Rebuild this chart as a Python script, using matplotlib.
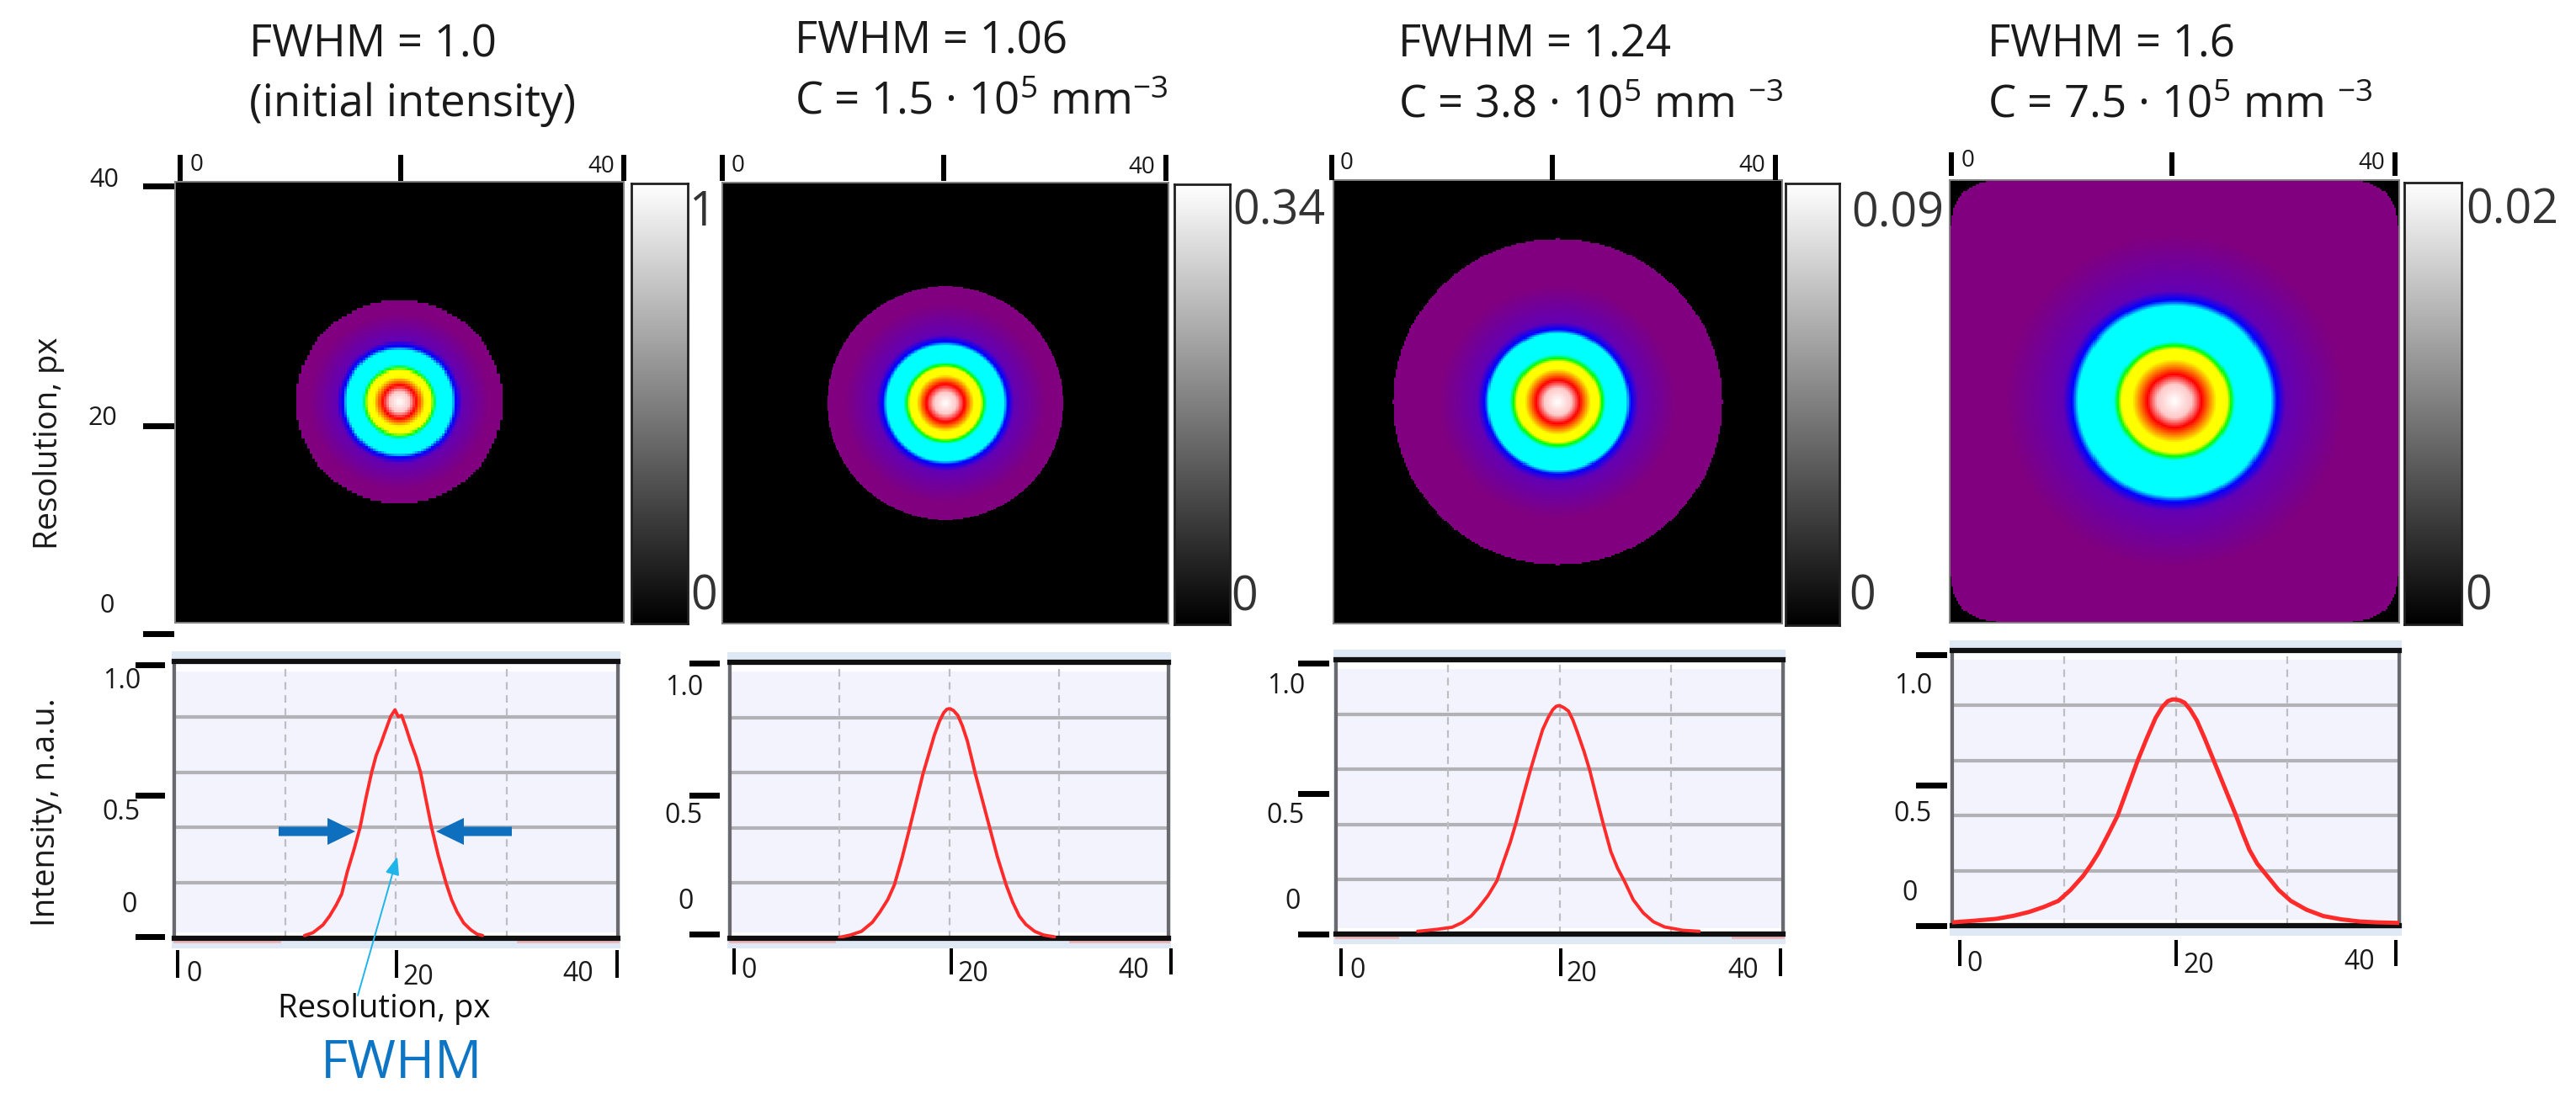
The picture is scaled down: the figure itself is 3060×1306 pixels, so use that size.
import numpy as np
import matplotlib
matplotlib.use("Agg")
import matplotlib.pyplot as plt
from matplotlib.colors import LinearSegmentedColormap
from matplotlib.patches import Rectangle, Polygon

W, H = 3060, 1306
FONT = "Open Sans"
plt.rcParams["font.family"] = [FONT, "DejaVu Sans"]
plt.rcParams["mathtext.fontset"] = "custom"
plt.rcParams["mathtext.rm"] = FONT
plt.rcParams["mathtext.default"] = "rm"

# ---- data ----
title_1 = ["FWHM = 1.0", "(initial intensity)"]
title_2 = ["FWHM = 1.06", "C = 1.5 · 10$^{5}$ mm$^{-3}$"]
title_3 = ["FWHM = 1.24", "C = 3.8 · 10$^{5}$ mm $^{-3}$"]
title_4 = ["FWHM = 1.6", "C = 7.5 · 10$^{5}$ mm $^{-3}$"]
colorbar_max = ["1", "0.34", "0.09", "0.02"]

# ring radii in px from the centre of each map:
# white, pink, red, yellow, yellow, green, cyan, cyan, blue, violet, purple
ring_colors = ["#ffffff", "#ffc8c8", "#ff0000", "#ffff00", "#ffff00", "#00ff00",
               "#00ffff", "#00ffff", "#0000ff", "#6400b4", "#800080"]
rings_1 = [0, 0.9, 1.5, 2.3, 2.85, 3.1, 3.35, 4.75, 5.1, 5.6, 8.0]
rings_2 = [0, 1.0, 1.7, 2.6, 3.2, 3.45, 3.75, 5.25, 5.6, 6.2, 9.0]
rings_3 = [0, 1.2, 1.95, 3.0, 3.65, 3.95, 4.3, 6.15, 6.5, 7.2, 10.5]
rings_4 = [0, 1.5, 2.4, 3.8, 4.7, 5.05, 5.4, 8.6, 9.15, 10.0, 15.0]
edge_radius = [9.26, 10.6, 14.75, 20.2]
edge_power = [2, 2, 2, 10]
map_cells = [170, 400, 260, 260]

# line profiles (position in px, intensity in axis units)
x_1 = [11.75, 12.5, 13.4, 14.0, 14.6, 15.1, 15.6, 16.2, 16.75, 17.3, 17.8, 18.2, 18.6, 19.0, 19.5, 19.9,
       20.2, 20.5, 20.9, 21.3, 21.8, 22.2, 22.7, 23.2, 23.8, 24.5, 25.0, 25.5, 26.1, 26.75, 27.3, 27.8]
y_1 = [0.01, 0.02, 0.048, 0.08, 0.12, 0.16, 0.24, 0.32, 0.40, 0.51, 0.60, 0.66, 0.70, 0.745, 0.80, 0.825,
       0.80, 0.805, 0.76, 0.71, 0.655, 0.60, 0.50, 0.40, 0.30, 0.20, 0.14, 0.095, 0.055, 0.03, 0.015, 0.01]
x_2 = [10.0, 11.0, 12.0, 13.0, 13.7, 14.4, 15.0, 15.7, 16.4, 17.0, 17.6, 18.2, 18.65, 19.1, 19.5, 19.8, 20.07,
       20.4, 20.8, 21.2, 21.65, 22.0, 22.4, 23.0, 23.7, 24.4, 25.2, 25.8, 26.4, 27.0, 27.8, 28.6, 29.6]
y_2 = [0.003, 0.012, 0.025, 0.058, 0.096, 0.14, 0.193, 0.29, 0.40, 0.497, 0.594, 0.675, 0.736, 0.785, 0.817, 0.83, 0.832,
       0.825, 0.807, 0.77, 0.716, 0.66, 0.594, 0.505, 0.40, 0.295, 0.193, 0.13, 0.08, 0.05, 0.025, 0.012, 0.005]
x_3 = [7.3, 9.0, 10.4, 11.3, 12.1, 12.8, 13.6, 14.4, 15.0, 15.6, 16.1, 16.8, 17.4, 18.0, 18.5, 19.0, 19.4, 19.7, 20.0,
       20.4, 20.8, 21.2, 21.6, 22.2, 22.7, 23.3, 23.9, 24.6, 25.2, 25.8, 26.6, 27.5, 28.4, 29.4, 31.0, 32.5]
y_3 = [0.01, 0.017, 0.025, 0.042, 0.066, 0.098, 0.14, 0.194, 0.265, 0.335, 0.404, 0.51, 0.598, 0.68, 0.746, 0.79, 0.818, 0.83, 0.833,
       0.825, 0.813, 0.78, 0.736, 0.665, 0.598, 0.50, 0.404, 0.30, 0.24, 0.194, 0.125, 0.077, 0.045, 0.026, 0.014, 0.01]
x_4 = [0.0, 2.0, 4.0, 5.5, 6.9, 8.2, 9.5, 10.6, 11.7, 12.4, 13.1, 14.0, 14.8, 15.7, 16.6, 17.4, 18.2, 18.8, 19.3, 19.7, 20.0,
       20.4, 20.8, 21.3, 21.9, 22.6, 23.4, 24.4, 25.4, 26.0, 26.6, 27.3, 28.1, 29.2, 30.3, 31.7, 33.2, 34.8, 36.5, 38.0, 40.0]
y_4 = [0.012, 0.018, 0.025, 0.036, 0.05, 0.068, 0.09, 0.13, 0.18, 0.22, 0.265, 0.335, 0.40, 0.50, 0.60, 0.68, 0.755, 0.795, 0.816, 0.822, 0.822,
       0.818, 0.81, 0.785, 0.745, 0.68, 0.60, 0.50, 0.40, 0.335, 0.275, 0.225, 0.185, 0.13, 0.09, 0.058, 0.035, 0.023, 0.015, 0.012, 0.01]
base_left = [9.5, 9.5, 5.5, 0.0]
base_right = [31.0, 31.0, 35.5, 40.0]

# ---- layout in picture pixels ----
map_boxes = [(208, 216, 741, 740), (858, 217, 1388, 741), (1584, 214, 2117, 741), (2316, 214, 2850, 740)]
cb_boxes = [(750, 218, 817, 741), (1395, 219, 1461, 742), (2121, 218, 2185, 743), (2856, 217, 2924, 742)]
line_boxes = [(207, 786, 734, 1115), (867, 787, 1388, 1115), (1587, 784, 2118, 1110), (2319, 773, 2850, 1100)]

fig = plt.figure(figsize=(W / 100, H / 100), dpi=100, facecolor="white")


def add_box(box, **kw):
    x0, y0, x1, y1 = box
    return fig.add_axes([x0 / W, 1 - y1 / H, (x1 - x0) / W, (y1 - y0) / H], **kw)


cmap = LinearSegmentedColormap.from_list("rings", [(i / 10, c) for i, c in enumerate(ring_colors)], N=1024)
cmap.set_bad("black")
all_rings = [rings_1, rings_2, rings_3, rings_4]

for i in range(4):
    ax = add_box(map_boxes[i])
    n = map_cells[i]
    edges = np.linspace(-20, 20, n)
    xx, yy = np.meshgrid(edges, edges)
    r = np.hypot(xx, yy)
    level = np.interp(r, all_rings[i], np.arange(11))
    p = edge_power[i]
    outside = (np.abs(xx) ** p + np.abs(yy) ** p) ** (1 / p) > edge_radius[i]
    ax.imshow(np.ma.array(level, mask=outside), cmap=cmap, vmin=0, vmax=10,
              extent=(0, 40, 0, 40), origin="lower", aspect="auto", interpolation="nearest")
    ax.set_xticks([]); ax.set_yticks([])
    for s in ax.spines.values():
        s.set_color("#808080"); s.set_linewidth(1.4)

    cb = add_box(cb_boxes[i])
    cb.imshow(np.linspace(1, 0, 256).reshape(-1, 1), cmap="gray", vmin=0, vmax=1, aspect="auto")
    cb.set_xticks([]); cb.set_yticks([])
    for s in cb.spines.values():
        s.set_color("#202020"); s.set_linewidth(2.0)

all_x = [x_1, x_2, x_3, x_4]
all_y = [y_1, y_2, y_3, y_4]
for i in range(4):
    x0, y0, x1, y1 = line_boxes[i]
    fig.add_artist(Rectangle(((x0 - 3) / W, 1 - (y1 + 12) / H), (x1 - x0 + 6) / W, (y1 - y0 + 24) / H,
                             transform=fig.transFigure, facecolor="#dfe9f5", edgecolor="none", zorder=-1))
    ax = add_box(line_boxes[i], facecolor="#f2f3fc")
    ax.set_xlim(0, 40); ax.set_ylim(0, 1)
    ax.set_xticks([]); ax.set_yticks([])
    ax.axhspan(0.965, 1, color="white", lw=0, zorder=0)
    ax.axhspan(0, 0.02, color="white", lw=0, zorder=0)
    for g in (0.2, 0.4, 0.6, 0.8):
        ax.axhline(g, color="#b2b2b6", lw=3.0, zorder=1)
    for g in (10, 20, 30):
        ax.axvline(g, color="#bdbdc4", lw=1.6, ls=(0, (4, 3)), zorder=1)
    ax.plot([0, base_left[i]], [-0.012, -0.012], color="#eeb4b8", lw=2, clip_on=False, zorder=2)
    ax.plot([base_right[i], 40], [-0.012, -0.012], color="#eeb4b8", lw=2, clip_on=False, zorder=2)
    ax.plot(all_x[i], all_y[i], color="#ff2b2b", lw=2.8 if i < 3 else 3.6, zorder=3,
            solid_joinstyle="round", solid_capstyle="round")
    ax.spines["top"].set_color("#101010"); ax.spines["top"].set_linewidth(4.5)
    ax.spines["bottom"].set_color("#101010"); ax.spines["bottom"].set_linewidth(4.5)
    for s in ("left", "right"):
        ax.spines[s].set_color("#6a6a6e"); ax.spines[s].set_linewidth(3.0)

# overlay for the hand-placed labels and marks, in picture pixels
ov = fig.add_axes([0, 0, 1, 1], facecolor="none", zorder=20)
ov.set_xlim(0, W); ov.set_ylim(H, 0); ov.axis("off")


def txt(x, y, s, size, ha="left", va="center", family=FONT, color="#1a1a1a", **kw):
    ov.text(x, y, s, fontsize=size, ha=ha, va=va, family=[family, "DejaVu Sans"], color=color, **kw)


def bar_v(x, y0, y1, w=5):
    ov.add_patch(Rectangle((x - w / 2, y0), w, y1 - y0, facecolor="black", edgecolor="none"))


def bar_h(x0, x1, y, h=7):
    ov.add_patch(Rectangle((x0, y - h / 2), x1 - x0, h, facecolor="black", edgecolor="none"))


# titles
T = 38
for (x, y1, y2, t) in [(296, 68, 138, title_1), (944, 63, 135, title_2),
                       (1661, 67, 140, title_3), (2361, 67, 139, title_4)]:
    txt(x, y1, t[0], T, va="baseline")
    txt(x, y2, t[1], T, va="baseline")

# axis ticks above the maps
for xs, y0, y1, lx, ly, rx, ry in [((214, 476, 741), 184, 215, 226, 196, 730, 198),
                                   ((858, 1121, 1385), 184, 215, 869, 197, 1372, 199),
                                   ((1582, 1844, 2109), 184, 214, 1592, 194, 2097, 197),
                                   ((2318, 2580, 2845), 181, 209, 2330, 191, 2833, 194)]:
    for x in xs:
        bar_v(x, y0, y1, 6)
    txt(lx, ly, "0", 20)
    txt(rx, ry, "40", 20, ha="right")

# left ticks of the first map
for y in (221, 506, 753):
    bar_h(170, 207, y)
txt(141, 214, "40", 22, ha="right")
txt(139, 497, "20", 22, ha="right")
txt(136, 720, "0", 22, ha="right")
txt(58, 527, "Resolution, px", 27.5, ha="center", rotation=90)

# colour bar labels
for x, y, s in [(818, 254, colorbar_max[0]), (1464, 252, colorbar_max[1]),
                (2199, 255, colorbar_max[2]), (2929, 251, colorbar_max[3])]:
    txt(x, y, s, 40, color="#333333")
for x, y in [(820, 710), (1462, 711), (2196, 710), (2928, 710)]:
    txt(x, y, "0", 40, color="#333333")

# ticks around the profile panels
left_ticks = [(161, 196, (790, 945, 1113)), (819, 855, (788, 945, 1110)),
              (1542, 1579, (788, 943, 1110)), (2276, 2313, (778, 933, 1100))]
left_labels = [(167, 163, (810, 966, 1075)), (835, 824, (817, 969, 1072)),
               (1550, 1545, (815, 969, 1071)), (2295, 2278, (815, 967, 1062))]
for (a, b, ys) in left_ticks:
    for y in ys:
        bar_h(a, b, y)
for (r1, r0, ys) in left_labels:
    txt(r1, ys[0], "1.0", 23, ha="right")
    txt(r1, ys[1], "0.5", 23, ha="right")
    txt(r0, ys[2], "0", 23, ha="right")

bottom = [((211, 471, 733), 1129, 1162, (221, 1157), (478, 1161), (705, 1157)),
          ((872, 1130, 1391), 1127, 1158, (880, 1154), (1137, 1157), (1365, 1154)),
          ((1593, 1854, 2115), 1127, 1160, (1603, 1154), (1860, 1157), (2089, 1154)),
          ((2328, 2585, 2846), 1117, 1148, (2336, 1145), (2593, 1147), (2821, 1143))]
for xs, y0, y1, p0, p20, p40 in bottom:
    for x in xs:
        bar_v(x, y0, y1, 3.5)
    txt(p0[0], p0[1], "0", 23)
    txt(p20[0], p20[1], "20", 23)
    txt(p40[0], p40[1], "40", 23, ha="right")

txt(55, 965, "Intensity, n.a.u.", 27.5, ha="center", rotation=90)
txt(456, 1199, "Resolution, px", 27.5, ha="center", color="#111111")
txt(477, 1265, "FWHM", 45, ha="center", color="#0e75c4")

# block arrows marking the half maximum
BLUE = "#0e6fbe"
for tail, tip in [(331, 422), (608, 518)]:
    d = 1 if tip > tail else -1
    neck = tip - d * 33
    ov.add_patch(Polygon([(tail, 982.5), (neck, 982.5), (neck, 972), (tip, 988), (neck, 1004),
                          (neck, 993.5), (tail, 993.5)], closed=True, facecolor=BLUE, edgecolor="none"))
# thin cyan pointer
ov.annotate("", xy=(472, 1018), xytext=(425, 1183),
            arrowprops=dict(arrowstyle="-|>,head_length=1.3,head_width=0.5", color="#1fb5ea", lw=1.4,
                            shrinkA=0, shrinkB=0))

fig.savefig("out.png", dpi=100, facecolor="white")
